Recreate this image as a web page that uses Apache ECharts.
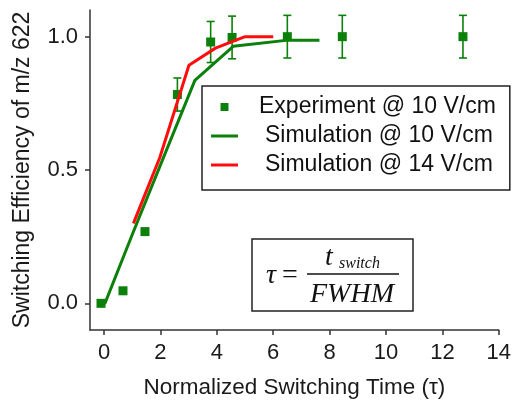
<!DOCTYPE html>
<html>
<head>
<meta charset="utf-8">
<script src="https://cdn.jsdelivr.net/npm/echarts@6/dist/echarts.min.js"></script>
<style>
html,body{margin:0;padding:0;background:#fff;}
#chart{width:514px;height:404px;}
</style>
</head>
<body>
<div id="chart"></div>
<script>
// ---- data ----
const expX   = [-0.11, 0.67, 1.45, 2.6, 3.78, 4.54, 6.5, 8.45, 12.73];
const expY   = [0.0, 0.047, 0.269, 0.783, 0.980, 0.997, 1.0, 1.0, 1.0];
const expErr = [0, 0, 0.008, 0.062, 0.077, 0.08, 0.08, 0.08, 0.08];

const sim10X = [-0.2, 0.03, 1, 2, 3.22, 4.58, 6.53, 7.64];
const sim10Y = [0.0, 0.0, 0.258, 0.519, 0.836, 0.964, 0.987, 0.987];

const sim14X = [1.04, 1.98, 3.01, 3.95, 5.0, 6.0];
const sim14Y = [0.30, 0.548, 0.893, 0.957, 1.0, 1.0];

const xTicks = [0, 2, 4, 6, 8, 10, 12, 14];
const yTicks = [0, 0.5, 1.0];

const names = ['Experiment @ 10 V/cm', 'Simulation @ 10 V/cm', 'Simulation @ 14 V/cm'];

const GREEN = '#0b800b';
const RED = '#ff0d0d';
const AX = '#333333';
const FONT = 'Liberation Sans, Arial, sans-serif';
const SERIF = '"Liberation Serif", "Times New Roman", serif';

const zip = (xs, ys) => xs.map((x, i) => [x, ys[i]]);
const expData = expX.map((x, i) => [x, expY[i], expErr[i]]);

const chart = echarts.init(document.getElementById('chart'), null, {renderer: 'canvas'});

const legendRich = {
  a: {fontFamily: FONT, fontSize: 23, color: '#111', lineHeight: 24, padding: [0, 0, 0, 16]},
  b: {fontFamily: FONT, fontSize: 23, color: '#111', lineHeight: 24, padding: [0, 0, 0, 22]}
};

chart.setOption({
  animation: false,
  backgroundColor: '#ffffff',
  grid: {left: 90, right: 15, top: 10, bottom: 69, containLabel: false},
  legend: {
    orient: 'vertical',
    left: 202, top: 86,
    padding: [9, 14, 13, 9],
    borderColor: '#222',
    borderWidth: 1.5,
    itemWidth: 27, itemHeight: 8,
    itemGap: 5,
    selectedMode: false,
    textStyle: {fontFamily: FONT, fontSize: 23, color: '#111', lineHeight: 24, rich: legendRich},
    formatter: n => (n.indexOf('Sim') === 0 ? '{b|' + n + '}' : '{a|' + n + '}'),
    data: [
      {name: names[0], icon: 'path://M0,0h10v10h-10z', itemStyle: {color: GREEN, opacity: 1}},
      {name: names[1], icon: 'path://M0,0h27v3h-27z', itemStyle: {color: GREEN}},
      {name: names[2], icon: 'path://M0,0h27v3h-27z', itemStyle: {color: RED}}
    ]
  },
  xAxis: {
    type: 'value', min: -0.5, max: 14,
    splitLine: {show: false},
    axisLine: {show: true, onZero: false, lineStyle: {color: AX, width: 1.5}},
    axisTick: {show: true, inside: false, length: 5, customValues: xTicks, lineStyle: {color: AX, width: 1.5}},
    axisLabel: {customValues: xTicks, margin: 12, fontFamily: FONT, fontSize: 22, color: '#1a1a1a'},
    name: 'Normalized Switching Time (τ)',
    nameLocation: 'middle', nameGap: 46,
    nameTextStyle: {fontFamily: FONT, fontSize: 22.5, color: '#1a1a1a'}
  },
  yAxis: {
    type: 'value', min: -0.1, max: 1.1,
    splitLine: {show: false},
    axisLine: {show: true, onZero: false, lineStyle: {color: AX, width: 1.5}},
    axisTick: {show: true, inside: false, length: 5, customValues: yTicks, lineStyle: {color: AX, width: 1.5}},
    axisLabel: {customValues: yTicks, margin: 12, fontFamily: FONT, fontSize: 22, color: '#1a1a1a',
      formatter: v => Number(v).toFixed(1)},
    name: 'Switching Efficiency of m/z 622',
    nameLocation: 'middle', nameGap: 56,
    nameTextStyle: {fontFamily: FONT, fontSize: 23, color: '#1a1a1a'}
  },
  series: [
    {
      name: names[0] + ' err',
      type: 'custom',
      z: 2,
      silent: true,
      data: expData,
      renderItem: function (params, api) {
        const x = api.value(0), y = api.value(1), e = api.value(2);
        if (!e) return null;
        const t = api.coord([x, y + e]);
        const b = api.coord([x, y - e]);
        const w = 4;
        const st = {stroke: GREEN, lineWidth: 1.6};
        return {
          type: 'group',
          children: [
            {type: 'line', shape: {x1: t[0], y1: t[1], x2: b[0], y2: b[1]}, style: st},
            {type: 'line', shape: {x1: t[0] - w, y1: t[1], x2: t[0] + w, y2: t[1]}, style: st},
            {type: 'line', shape: {x1: b[0] - w, y1: b[1], x2: b[0] + w, y2: b[1]}, style: st}
          ]
        };
      }
    },
    {
      name: names[0],
      type: 'scatter',
      z: 3,
      symbol: 'rect',
      symbolSize: 9,
      itemStyle: {color: GREEN, opacity: 1},
      data: expData.map(d => [d[0], d[1]])
    },
    {
      name: names[1],
      type: 'line',
      z: 4,
      showSymbol: false, symbol: 'none',
      lineStyle: {color: GREEN, width: 3},
      itemStyle: {color: GREEN},
      data: zip(sim10X, sim10Y)
    },
    {
      name: names[2],
      type: 'line',
      z: 5,
      showSymbol: false, symbol: 'none',
      lineStyle: {color: RED, width: 3},
      itemStyle: {color: RED},
      data: zip(sim14X, sim14Y)
    }
  ],
  graphic: [
    {type: 'rect', shape: {x: 252, y: 239, width: 161, height: 72},
     style: {fill: 'none', stroke: '#222', lineWidth: 1.5}},
    {type: 'text', x: 266, y: 276,
     style: {text: 'τ', font: 'italic 28px ' + SERIF, fill: '#111', verticalAlign: 'middle'}},
    {type: 'text', x: 282, y: 276,
     style: {text: '=', font: '28px ' + SERIF, fill: '#111', verticalAlign: 'middle'}},
    {type: 'line', shape: {x1: 307, y1: 274, x2: 399, y2: 274}, style: {stroke: '#111', lineWidth: 1.3}},
    {type: 'text', x: 325, y: 258,
     style: {text: 't', font: 'italic 28px ' + SERIF, fill: '#111', verticalAlign: 'middle'}},
    {type: 'text', x: 339, y: 264,
     style: {text: 'switch', font: 'italic 16px ' + SERIF, fill: '#111', verticalAlign: 'middle'}},
    {type: 'text', x: 310, y: 295,
     style: {text: 'FWHM', font: 'italic 28px ' + SERIF, fill: '#111', verticalAlign: 'middle'}}
  ]
});
</script>
</body>
</html>
